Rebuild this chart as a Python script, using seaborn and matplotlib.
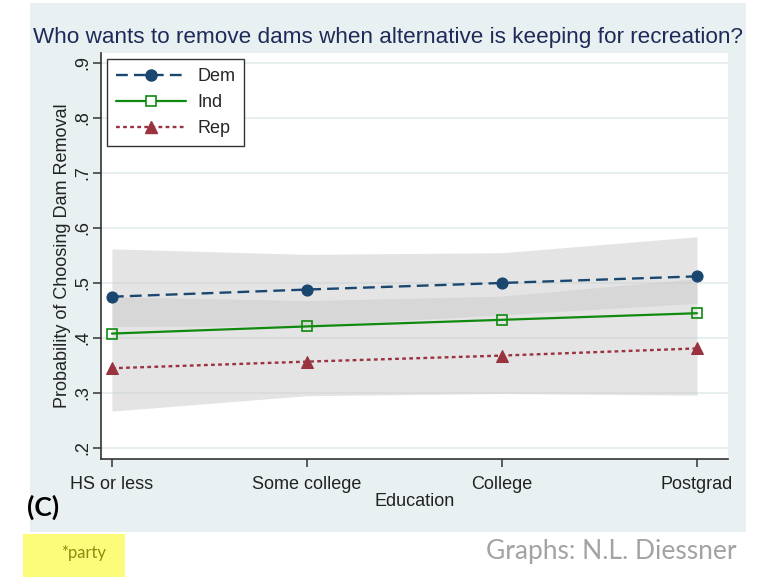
import numpy as np
import pandas as pd
import matplotlib
matplotlib.use("Agg")
import matplotlib.pyplot as plt
from matplotlib.patches import Rectangle
from matplotlib.lines import Line2D
import seaborn as sns

# Predicted probabilities by education level and party
education = ["HS or less", "Some college", "College", "Postgrad"]
dem = [0.475, 0.488, 0.500, 0.512]
ind = [0.408, 0.421, 0.433, 0.445]
rep = [0.345, 0.357, 0.368, 0.381]

# Confidence bands
dem_ci_lo = [0.421, 0.422, 0.442, 0.463]
dem_ci_hi = [0.562, 0.552, 0.555, 0.584]
rep_ci_lo = [0.267, 0.295, 0.299, 0.296]
rep_ci_hi = [0.475, 0.468, 0.476, 0.508]

y_ticks = [0.2, 0.3, 0.4, 0.5, 0.6, 0.7, 0.8, 0.9]
y_tick_labels = [".2", ".3", ".4", ".5", ".6", ".7", ".8", ".9"]

sns.set_theme(style="white")
plt.rcParams["font.family"] = ["Liberation Sans", "DejaVu Sans"]

W, H = 765, 577
fig = plt.figure(figsize=(W / 100, H / 100), dpi=100, facecolor="white")

# light blue-gray graph region, behind the axes
fig.patches.append(Rectangle((30 / W, 1 - 532 / H), (746 - 30) / W, (532 - 3) / H,
                             transform=fig.transFigure, facecolor="#e8f0f2",
                             edgecolor="none", zorder=-2))

ax = fig.add_axes([101 / W, 1 - 459 / H, (728 - 101) / W, (459 - 53) / H])
ax.set_facecolor("white")
ax.set_zorder(1)

df = pd.DataFrame({
    "pos": np.arange(len(education)),
    "education": education,
    "Dem": dem, "Ind": ind, "Rep": rep,
})
x = df["pos"].to_numpy()

band_color = (203 / 255, 203 / 255, 203 / 255)
ax.fill_between(x, dem_ci_lo, dem_ci_hi, color=band_color, alpha=0.5, lw=0, zorder=1)
ax.fill_between(x, rep_ci_lo, rep_ci_hi, color=band_color, alpha=0.5, lw=0, zorder=1)

dem_c, ind_c, rep_c = "#1a476f", "#0f8a0f", "#9a3340"
dem_ls = (0, (5, 2.6))
rep_ls = (0, (1.6, 1.4))

sns.lineplot(data=df, x="pos", y="Dem", ax=ax, color=dem_c, lw=1.7,
             linestyle=dem_ls, marker="o", markersize=8,
             markeredgecolor=dem_c, markerfacecolor=dem_c, zorder=3)
sns.lineplot(data=df, x="pos", y="Ind", ax=ax, color=ind_c, lw=1.6,
             linestyle="-", marker="s", markersize=7,
             markeredgecolor=ind_c, markerfacecolor="none", markeredgewidth=1.2, zorder=3)
sns.lineplot(data=df, x="pos", y="Rep", ax=ax, color=rep_c, lw=1.7,
             linestyle=rep_ls, marker="^", markersize=9,
             markeredgecolor=rep_c, markerfacecolor=rep_c, zorder=3)

ax.set_xlim(-0.056, 3.159)
ax.set_ylim(0.18, 0.918)
ax.set_yticks(y_ticks)
ax.set_yticklabels(y_tick_labels, rotation=90, va="center", fontsize=13, color="#222222")
ax.set_xticks(x)
ax.set_xticklabels(education, fontsize=13, color="#222222")
ax.yaxis.grid(True, color="#e6eef0", lw=1.4, zorder=0)
ax.xaxis.grid(False)
ax.set_axisbelow(True)
ax.tick_params(axis="both", which="major", direction="out", length=6, width=1.1,
               color="#333333", left=True, bottom=True)
ax.tick_params(axis="x", pad=6)
ax.tick_params(axis="y", pad=1)

for side in ["top", "right"]:
    ax.spines[side].set_visible(False)
for side in ["left", "bottom"]:
    ax.spines[side].set_color("#333333")
    ax.spines[side].set_linewidth(1.2)

ax.set_xlabel("Education", fontsize=13, color="#222222", labelpad=0)
ax.set_ylabel("Probability of Choosing Dam Removal", fontsize=13, color="#222222", labelpad=2)

handles = [
    Line2D([], [], color=dem_c, lw=1.7, linestyle=dem_ls, marker="o",
           markersize=8, markerfacecolor=dem_c),
    Line2D([], [], color=ind_c, lw=1.6, linestyle="-", marker="s",
           markersize=7, markerfacecolor="white", markeredgewidth=1.2),
    Line2D([], [], color=rep_c, lw=1.7, linestyle=rep_ls, marker="^",
           markersize=9, markerfacecolor=rep_c),
]
leg = ax.legend(handles, ["Dem", "Ind", "Rep"], loc="upper left",
                bbox_to_anchor=(0.0096, 0.985), fontsize=13, frameon=True,
                fancybox=False, edgecolor="#333333", framealpha=1,
                handlelength=3.9, handletextpad=0.6, labelspacing=0.5,
                borderpad=0.5, borderaxespad=0)
leg.get_frame().set_linewidth(1.0)

fig.text(388 / W, 1 - 38 / H,
         "Who wants to remove dams when alternative is keeping for recreation?",
         ha="center", va="center", fontsize=16.2, color="#1e2b58")

fig.text(27 / W, 1 - 507 / H, "(C)", ha="left", va="center", fontsize=19,
         fontweight="bold", color="black", family=["Lato", "DejaVu Sans"])

fig.patches.append(Rectangle((23 / W, 0), (125 - 23) / W, (577 - 534) / H,
                             transform=fig.transFigure, facecolor="#fdfc7a",
                             edgecolor="none", zorder=-2))
fig.text(61 / W, 1 - 553 / H, "*party", ha="left", va="center", fontsize=12,
         color="#8c8a10", family=["Lato", "DejaVu Sans"])
fig.text(737 / W, 1 - 551 / H, "Graphs: N.L. Diessner", ha="right", va="center",
         fontsize=19, color="#a3a3a3", family=["Lato", "DejaVu Sans"])

fig.savefig("out.png", dpi=100, facecolor="white")
